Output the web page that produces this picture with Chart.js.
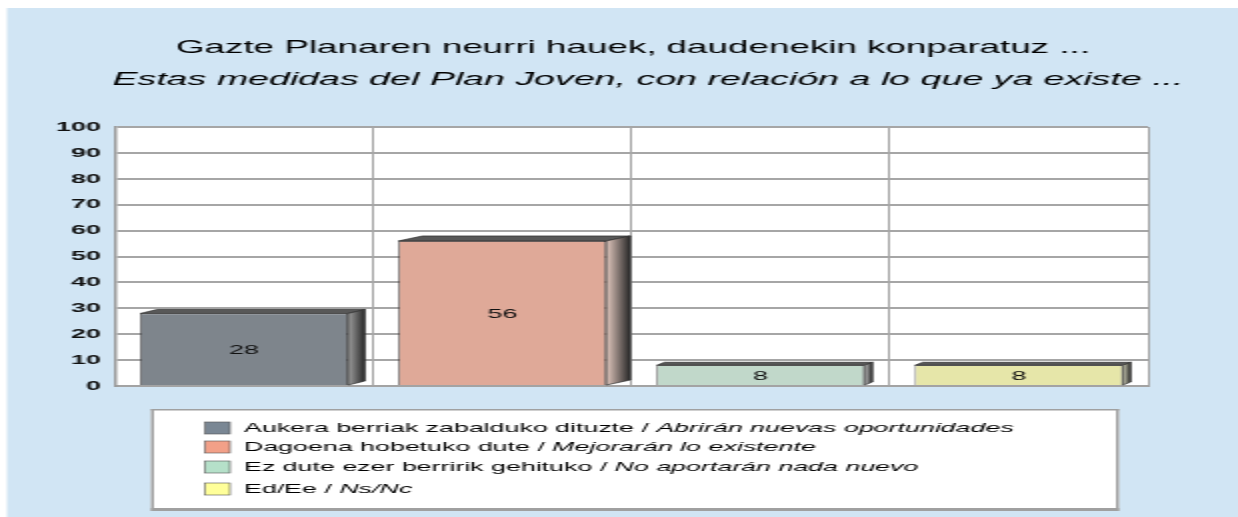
<!DOCTYPE html>
<html><head><meta charset="utf-8">
<script src="https://cdn.jsdelivr.net/npm/chart.js@4.4.1/dist/chart.umd.min.js"></script>
<style>html,body{margin:0;padding:0;background:#fff;overflow:hidden}</style>
</head><body>
<canvas id="c" width="619" height="517" style="display:block;width:1238px;height:517px"></canvas>
<script>
// ---- data ----
const titleLine1 = 'Gazte Planaren neurri hauek, daudenekin konparatuz ...';
const titleLine2 = 'Estas medidas del Plan Joven, con relación a lo que ya existe ...';
const categoriesEu = ['Aukera berriak zabalduko dituzte', 'Dagoena hobetuko dute', 'Ez dute ezer berririk gehituko', 'Ed/Ee'];
const categoriesEs = ['Abrirán nuevas oportunidades', 'Mejorarán lo existente', 'No aportarán nada nuevo', 'Ns/Nc'];
const values = [28, 56, 8, 8];
const yTickValues = [0, 10, 20, 30, 40, 50, 60, 70, 80, 90, 100];

// ---- styles ----
const barColors = ['#7e858c', '#dfa998', '#c1d8ca', '#e6e6a9'];
const swatchColors = ['#7a8794', '#f2a088', '#b5e0c9', '#ffff99'];
const sideLight = ['#a0a0a0', '#e2c8be', '#c0c0c0', '#d0d0b8'];
const BLUE = '#d1e5f4';
const SANS = "'Liberation Sans', Arial, sans-serif";

const bgPlugin = {
  id: 'bg',
  beforeDraw(chart) {
    const ctx = chart.ctx, a = chart.chartArea;
    ctx.save();
    ctx.fillStyle = '#ffffff';
    ctx.fillRect(0, 0, chart.width, chart.height);
    ctx.fillStyle = BLUE;
    ctx.fillRect(3.5, 8, chart.width - 3.5, chart.height - 8);
    ctx.fillStyle = '#ffffff';
    ctx.fillRect(a.left, a.top, a.right - a.left, a.bottom - a.top);
    ctx.restore();
  }
};

const bar3dPlugin = {
  id: 'bar3d',
  afterDatasetsDraw(chart, args, opts) {
    const ctx = chart.ctx;
    const meta = chart.getDatasetMeta(0);
    meta.data.forEach((el, i) => {
      const p = el.getProps(['x', 'y', 'base', 'width'], true);
      const l = p.x - p.width / 2, r = p.x + p.width / 2;
      const dx = opts.depth[i], dy = opts.rise[i];
      ctx.save();
      ctx.lineWidth = 0.7;
      ctx.strokeStyle = '#2e2e2e';
      // top face
      ctx.beginPath();
      ctx.moveTo(l, p.y); ctx.lineTo(l + dx, p.y - dy); ctx.lineTo(r + dx, p.y - dy); ctx.lineTo(r, p.y); ctx.closePath();
      ctx.fillStyle = '#585858';
      ctx.fill(); ctx.stroke();
      // side face
      const g = ctx.createLinearGradient(r, 0, r + dx, 0);
      g.addColorStop(0, sideLight[i]);
      g.addColorStop(1, '#262626');
      ctx.beginPath();
      ctx.moveTo(r, p.y); ctx.lineTo(r + dx, p.y - dy); ctx.lineTo(r + dx, p.base - dy); ctx.lineTo(r, p.base); ctx.closePath();
      ctx.fillStyle = g;
      ctx.fill(); ctx.stroke();
      ctx.restore();
      // value label
      ctx.save();
      ctx.fillStyle = '#111';
      ctx.font = '13.5px ' + SANS;
      ctx.textAlign = 'center';
      ctx.textBaseline = 'middle';
      ctx.fillText(String(chart.data.datasets[0].data[i]), p.x, (p.y + p.base) / 2 + 1);
      ctx.restore();
    });
  }
};

const textPlugin = {
  id: 'texts',
  afterDraw(chart) {
    const ctx = chart.ctx;
    ctx.save();
    ctx.fillStyle = '#000';
    ctx.textAlign = 'center';
    ctx.textBaseline = 'alphabetic';
    ctx.font = '18.4px ' + SANS;
    ctx.fillText(titleLine1, 316.5, 53);
    ctx.font = 'italic 18.8px ' + SANS;
    ctx.fillText(titleLine2, 324, 85);

    // legend box
    const L = 75.5, T = 409, R = 559.5, B = 511;
    ctx.fillStyle = '#ffffff';
    ctx.fillRect(L, T, R - L, B - T);
    ctx.fillStyle = '#a0a0a0';
    ctx.fillRect(L, T, R - L, 1.5);
    ctx.fillRect(L, B - 3, R - L, 3);
    ctx.fillRect(L, T, 1.5, B - T);
    ctx.fillRect(R - 1.5, T, 1.5, B - T);

    const rowsY = [428, 447, 467, 489];
    ctx.textAlign = 'left';
    ctx.textBaseline = 'middle';
    categoriesEu.forEach((eu, i) => {
      const y = rowsY[i];
      ctx.fillStyle = swatchColors[i];
      ctx.fillRect(102.5, y - 6, 12.5, 12);
      ctx.strokeStyle = '#555';
      ctx.lineWidth = 0.6;
      ctx.strokeRect(102.5, y - 6, 12.5, 12);
      ctx.fillStyle = '#000';
      ctx.font = '13.4px ' + SANS;
      const first = eu + ' / ';
      ctx.fillText(first, 122, y);
      const w = ctx.measureText(first).width;
      ctx.font = 'italic 13.4px ' + SANS;
      ctx.fillText(categoriesEs[i], 122 + w, y);
    });
    ctx.restore();
  }
};

new Chart(document.getElementById('c'), {
  type: 'bar',
  data: {
    labels: categoriesEu.map((eu, i) => eu + ' / ' + categoriesEs[i]),
    datasets: [{
      data: values,
      backgroundColor: barColors,
      borderColor: '#2e2e2e',
      borderWidth: 0.7,
      barPercentage: 0.805,
      categoryPercentage: 1
    }]
  },
  plugins: [bgPlugin, bar3dPlugin, textPlugin],
  options: {
    responsive: false,
    devicePixelRatio: 1,
    animation: false,
    layout: { padding: { top: 127, bottom: 131, left: 0, right: 45 } },
    plugins: {
      legend: { display: false },
      title: { display: false },
      tooltip: { enabled: false },
      bar3d: { depth: [8.5, 12, 4, 4], rise: [4, 5, 3, 3] }
    },
    scales: {
      x: {
        offset: true,
        ticks: { display: false },
        grid: {
          offset: true,
          drawTicks: false,
          color: '#a3a3a3',
          lineWidth: (c) => (c.index === 4 ? 1.5 : 1)
        },
        border: { display: true, color: '#a3a3a3', width: 2 },
        afterFit: (s) => { s.height = 0; }
      },
      y: {
        min: 0, max: 100,
        afterBuildTicks: (s) => { s.ticks = yTickValues.map(v => ({ value: v })); },
        ticks: {
          padding: 7,
          color: '#111111',
          font: { family: "'Liberation Sans Narrow', 'Liberation Sans', Arial, sans-serif", size: 13.5, weight: 'bold' }
        },
        grid: { drawTicks: false, color: '#a6a6a6', lineWidth: 2 },
        border: { display: true, color: '#9a9a9a', width: 1.5 },
        afterFit: (s) => { s.width = 57.5; }
      }
    }
  }
});
</script>
</body></html>
